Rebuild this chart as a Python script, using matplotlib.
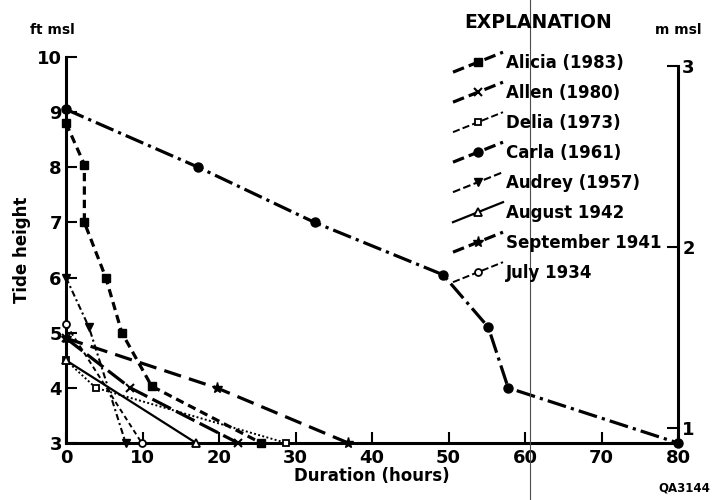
import matplotlib
matplotlib.use("Agg")
import matplotlib.pyplot as plt
from matplotlib.lines import Line2D
from matplotlib.legend_handler import HandlerBase

# ---------------- data ----------------
alicia_x = [0, 2.4, 2.4, 5.2, 7.3, 11.2, 25.5]
alicia_y = [8.8, 8.05, 7.0, 6.0, 5.0, 4.03, 3.0]
allen_x = [0, 8.4, 22.5]
allen_y = [4.9, 4.0, 3.0]
delia_x = [0, 3.9, 28.8]
delia_y = [4.5, 4.0, 3.0]
carla_x = [0, 17.3, 32.5, 49.3, 55.2, 57.8, 80]
carla_y = [9.05, 8.0, 7.0, 6.05, 5.1, 4.0, 3.0]
audrey_x = [0, 3.0, 7.8]
audrey_y = [6.0, 5.1, 3.0]
august_x = [0, 17.0]
august_y = [4.5, 3.0]
sept_x = [0, 19.7, 36.9]
sept_y = [4.9, 4.0, 3.0]
july_x = [0, 9.9]
july_y = [5.15, 3.0]

labels = ["Alicia (1983)", "Allen (1980)", "Delia (1973)", "Carla (1961)",
          "Audrey (1957)", "August 1942", "September 1941", "July 1934"]
x_ticks = [0, 10, 20, 30, 40, 50, 60, 70, 80]
y_ticks_ft = [3, 4, 5, 6, 7, 8, 9, 10]
y_ticks_m = [1, 2, 3]
FT_PER_M = 3.2808

plt.rcParams['font.family'] = ['DejaVu Sans']
plt.rcParams['font.weight'] = 'bold'

fig = plt.figure(figsize=(7.14, 5.0), dpi=100)
ax = fig.add_axes([66/714, 1-443/500, (678-66)/714, (443-57)/500])

K = 'black'
series = [
    (alicia_x, alicia_y, dict(ls=(0, (2.6, 1.6)), lw=2.3, marker='s', ms=5.5, mfc=K)),
    (allen_x, allen_y, dict(ls=(0, (6.5, 1.8)), lw=2.3, marker='x', ms=6, mew=1.5)),
    (delia_x, delia_y, dict(ls=(0, (1, 1.2)), lw=1.4, marker='s', ms=5, mfc='white', mew=1.3)),
    (carla_x, carla_y, dict(ls=(0, (6, 1.6, 1, 1.6)), lw=2.3, marker='o', ms=6.5, mfc=K)),
    (audrey_x, audrey_y, dict(ls=(0, (3, 1.5, 1, 1.5)), lw=1.5, marker='v', ms=6, mfc=K)),
    (august_x, august_y, dict(ls='-', lw=1.6, marker='^', ms=6, mfc='white', mew=1.3)),
    (sept_x, sept_y, dict(ls=(0, (5.5, 2.6)), lw=2.3, marker='*', ms=8, mfc=K)),
    (july_x, july_y, dict(ls=(0, (2.5, 1.8)), lw=1.4, marker='o', ms=5, mfc='white', mew=1.3)),
]
handles = []
for (xs, ys, st), lab in zip(series, labels):
    h, = ax.plot(xs, ys, color=K, label=lab, clip_on=False, zorder=3, **st)
    handles.append(h)

ax.set_xlim(0, 80)
ax.set_ylim(3, 10)
ax.set_xticks(x_ticks)
ax.set_yticks(y_ticks_ft)
ax.tick_params(axis='both', direction='in', length=8, width=1.5, labelsize=13, pad=3)
ax.tick_params(axis='x', pad=4)
for t in ax.get_xticklabels() + ax.get_yticklabels():
    t.set_fontweight('bold')
ax.spines['top'].set_visible(False)
ax.spines['right'].set_visible(False)
ax.spines['left'].set_linewidth(2.2)
ax.spines['bottom'].set_linewidth(2.2)

# right axis in metres
ax2 = ax.twinx()
ax2.set_ylim(3/FT_PER_M, 10/FT_PER_M)
ax2.set_yticks(y_ticks_m)
ax2.tick_params(axis='y', direction='in', length=8, width=1.5, labelsize=13, pad=3)
for t in ax2.get_yticklabels():
    t.set_fontweight('bold')
for s in ['top', 'left', 'bottom']:
    ax2.spines[s].set_visible(False)
ax2.spines['right'].set_linewidth(2.2)
ax2.spines['right'].set_bounds(3/FT_PER_M, 3.0)

ax.set_ylabel("Tide height", fontsize=12, fontweight='bold', labelpad=4)
ax.set_xlabel("Duration (hours)", fontsize=12, fontweight='bold', labelpad=0)
fig.text(52/714, 1-30/500, "ft msl", fontsize=10, fontweight='bold', ha='center', va='center')
fig.text(678/714, 1-30/500, "m msl", fontsize=10, fontweight='bold', ha='center', va='center')
fig.text(684/714, 1-488/500, "QA3144", fontsize=8.5, fontweight='bold', ha='center', va='center')
fig.text(538/714, 1-22/500, "EXPLANATION", fontsize=13.5, fontweight='bold', ha='center', va='center')


class SlantHandler(HandlerBase):
    def create_artists(self, legend, orig_handle, xdescent, ydescent, width, height,
                       fontsize, trans):
        x0, x1 = -xdescent, -xdescent + width
        yc = -ydescent + 0.5 * height
        y0, y1 = yc - 0.6 * fontsize, yc + 0.6 * fontsize
        ln = Line2D([x0, x1], [y0, y1], color=K, linestyle=orig_handle.get_linestyle(),
                    linewidth=orig_handle.get_linewidth(), transform=trans)
        mk = Line2D([(x0 + x1) / 2], [yc], color=K, linestyle='none',
                    marker=orig_handle.get_marker(), markersize=orig_handle.get_markersize(),
                    markerfacecolor=orig_handle.get_markerfacecolor(),
                    markeredgewidth=orig_handle.get_markeredgewidth(), transform=trans)
        return [ln, mk]


leg = fig.legend(handles=handles, labels=labels, handler_map={Line2D: SlantHandler()},
                 loc='upper left', bbox_to_anchor=(453/714, 1-54/500), frameon=False,
                 prop={'weight': 'bold', 'size': 12}, handlelength=3.0, handletextpad=0.2,
                 labelspacing=0.72, borderaxespad=0, borderpad=0)

# scan fold line
fig.add_artist(Line2D([530/714, 530/714], [0, 1], transform=fig.transFigure,
                      color='0.3', lw=0.8))

fig.savefig("out.png", dpi=100)
